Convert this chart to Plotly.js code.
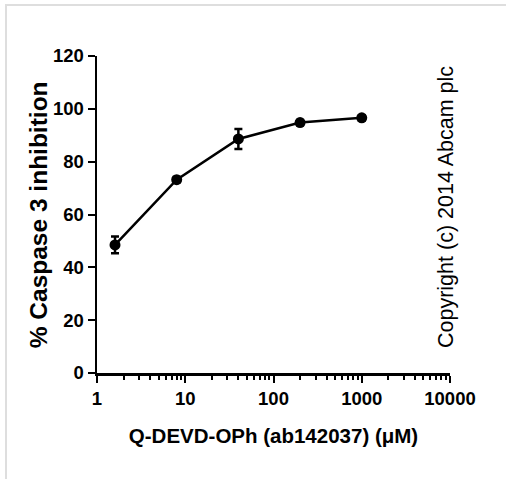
<!DOCTYPE html>
<html>
<head>
<meta charset="utf-8">
<script src="https://cdn.plot.ly/plotly-3.0.1.min.js"></script>
<style>
  html, body { margin: 0; padding: 0; background: #fff; }
  #wrap { position: relative; width: 506px; height: 479px; overflow: hidden; }
  #chart { position: absolute; left: 0; top: 0; width: 506px; height: 479px; }
  #frame { position: absolute; left: 5px; top: 4px; width: 520px; height: 500px;
           border-top: 2px solid #dedede; border-left: 2px solid #dedede; pointer-events: none; }
</style>
</head>
<body>
<div id="wrap">
  <div id="chart"></div>
  <div id="frame"></div>
</div>
<script>
// Data
const concentration = [1.6, 8, 40, 200, 1000];          // µM
const inhibition    = [48.5, 73.2, 88.6, 94.8, 96.6];   // %
const errorSD       = [3.2, 1.0, 3.8, 1.0, 1.0];        // %
const yTickVals = [0, 20, 40, 60, 80, 100, 120];
const xTickVals = [1, 10, 100, 1000, 10000];
const xTickText = ['1', '10', '100', '1000', '10000'];
const yTitle = '% Caspase 3 inhibition';
const xTitle = 'Q-DEVD-OPh (ab142037) (μM)';
const copyright = 'Copyright (c) 2014 Abcam plc';

const font = 'Liberation Sans, Arial, sans-serif';

const trace = {
  x: concentration,
  y: inhibition,
  type: 'scatter',
  mode: 'lines+markers',
  line: { color: '#000', width: 2.5 },
  marker: { color: '#000', size: 11, symbol: 'circle' },
  error_y: { type: 'data', array: errorSD, visible: true, color: '#000', thickness: 2.5, width: 4 },
  showlegend: false,
  cliponaxis: false
};

const layout = {
  width: 506,
  height: 479,
  margin: { l: 97, r: 56, t: 56, b: 106 },
  paper_bgcolor: '#fff',
  plot_bgcolor: '#fff',
  font: { family: font, color: '#000' },
  xaxis: {
    type: 'log',
    range: [0, 4],
    tickvals: xTickVals,
    ticktext: xTickText,
    ticks: 'outside',
    ticklen: 7,
    tickwidth: 2,
    tickcolor: '#000',
    showline: true,
    linecolor: '#000',
    linewidth: 2.5,
    showgrid: false,
    zeroline: false,
    tickfont: { family: font, size: 18.5, color: '#000', weight: 'bold' },
    minor: { ticks: 'outside', ticklen: 4, tickwidth: 2, tickcolor: '#000', dtick: 'D1', showgrid: false },
    title: { text: xTitle, font: { family: font, size: 20.5, color: '#000', weight: 'bold' }, standoff: 21 }
  },
  yaxis: {
    range: [0, 120],
    tickvals: yTickVals,
    ticks: 'outside',
    ticklen: 7,
    tickwidth: 2,
    tickcolor: '#000',
    showline: true,
    linecolor: '#000',
    linewidth: 2.5,
    showgrid: false,
    zeroline: false,
    tickfont: { family: font, size: 18.5, color: '#000', weight: 'bold' }
  },
  annotations: [{
    text: yTitle,
    xref: 'paper', yref: 'paper',
    x: -0.165, y: 0.5,
    xanchor: 'center', yanchor: 'middle',
    textangle: -90,
    showarrow: false,
    font: { family: font, size: 24.5, color: '#000', weight: 'bold' }
  }, {
    text: copyright,
    xref: 'paper', yref: 'paper',
    x: 0.989, y: 0.524,
    xanchor: 'center', yanchor: 'middle',
    textangle: -90,
    showarrow: false,
    font: { family: font, size: 21.5, color: '#000' }
  }]
};

Plotly.newPlot('chart', [trace], layout, { displayModeBar: false, staticPlot: true });
</script>
</body>
</html>
